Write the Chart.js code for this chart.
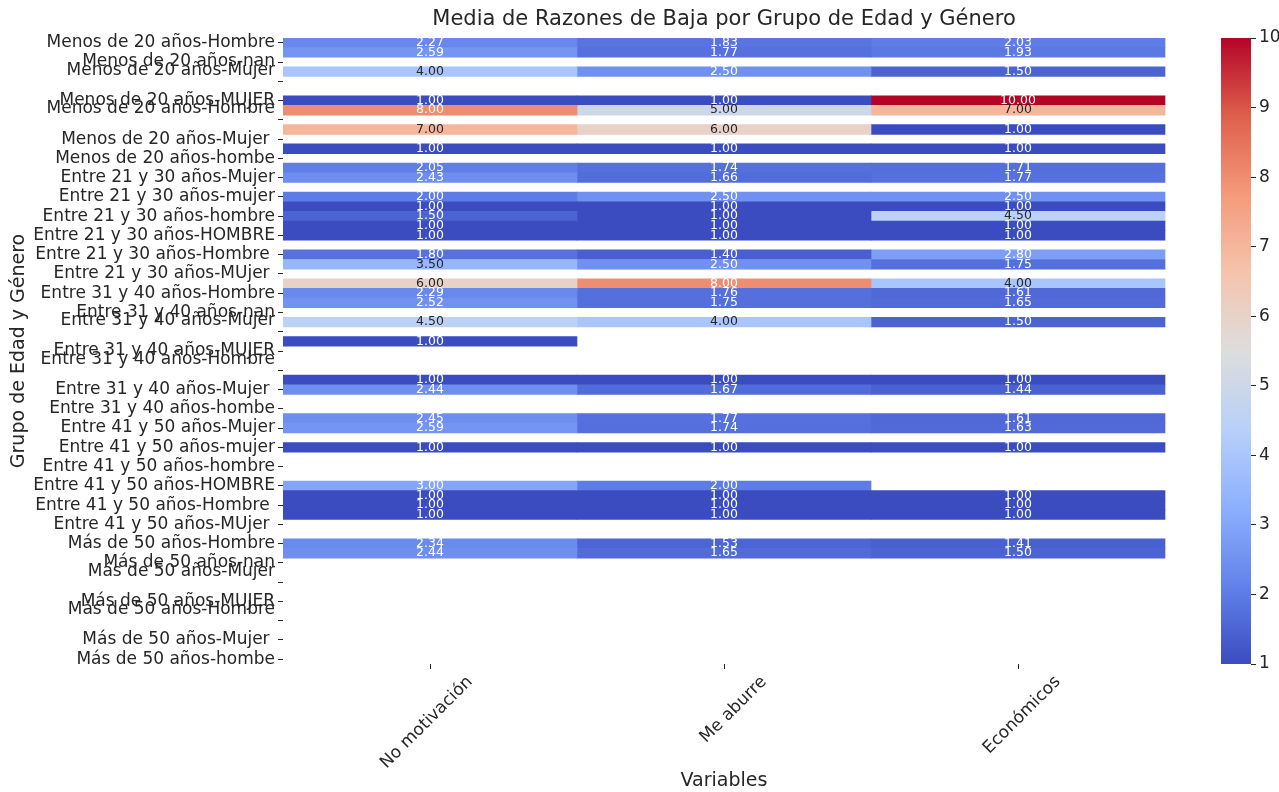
<!DOCTYPE html>
<html lang="es">
<head>
<meta charset="utf-8">
<title>Media de Razones de Baja</title>
<script src="https://cdn.jsdelivr.net/npm/chart.js@4.4.1/dist/chart.umd.min.js"></script>
<style>
  html, body { margin: 0; padding: 0; background: #fff; }
  #wrap { width: 1279px; height: 792px; position: relative; }
</style>
</head>
<body>
<div id="wrap"><canvas id="heatmap"></canvas></div>
<script>
// grupos de edad y variantes de genero tal como vienen en los datos (con espacios y saltos)
const ageGroups = ['Menos de 20 años', 'Entre 21 y 30 años', 'Entre 31 y 40 años', 'Entre 41 y 50 años', 'Más de 50 años'];
const genders = ['Hombre', 'Mujer', 'nan', 'mujer', 'Mujer\n', 'hombre', 'MUJER', 'HOMBRE', 'Hombre\n', 'Hombre ', 'Mujer ', 'MUjer ', 'hombe'];
const variables = ['No motivación', 'Me aburre', 'Económicos'];

// medias por fila (13 por grupo de edad), null = sin dato
const noMotivacion = [
  2.27, 2.59, null, 4.00, null, null, 1.00, 8.00, null, 7.00, null, 1.00, null,
  2.05, 2.43, null, 2.00, 1.00, 1.50, 1.00, 1.00, null, 1.80, 3.50, null, 6.00,
  2.29, 2.52, null, 4.50, null, 1.00, null, null, null, 1.00, 2.44, null, null,
  2.45, 2.59, null, 1.00, null, null, null, 3.00, 1.00, 1.00, 1.00, null, null,
  2.34, 2.44, null, null, null, null, null, null, null, null, null, null, null
];
const meAburre = [
  1.83, 1.77, null, 2.50, null, null, 1.00, 5.00, null, 6.00, null, 1.00, null,
  1.74, 1.66, null, 2.50, 1.00, 1.00, 1.00, 1.00, null, 1.40, 2.50, null, 8.00,
  1.76, 1.75, null, 4.00, null, null, null, null, null, 1.00, 1.67, null, null,
  1.77, 1.74, null, 1.00, null, null, null, 2.00, 1.00, 1.00, 1.00, null, null,
  1.53, 1.65, null, null, null, null, null, null, null, null, null, null, null
];
const economicos = [
  2.03, 1.93, null, 1.50, null, null, 10.00, 7.00, null, 1.00, null, 1.00, null,
  1.71, 1.77, null, 2.50, 1.00, 4.50, 1.00, 1.00, null, 2.80, 1.75, null, 4.00,
  1.61, 1.65, null, 1.50, null, null, null, null, null, 1.00, 1.44, null, null,
  1.61, 1.63, null, 1.00, null, null, null, null, 1.00, 1.00, 1.00, null, null,
  1.41, 1.50, null, null, null, null, null, null, null, null, null, null, null
];
const colorbarTicks = [1, 2, 3, 4, 5, 6, 7, 8, 9, 10];
const vmin = 1, vmax = 10;

const rowLabels = [];
ageGroups.forEach(age => genders.forEach(g => rowLabels.push(age + '-' + g)));

// coolwarm de matplotlib, muestreado cada 1/8
const coolwarm = [
  [0.0, 59, 76, 192],
  [0.125, 98, 130, 234],
  [0.25, 141, 176, 254],
  [0.375, 184, 208, 249],
  [0.5, 221, 221, 221],
  [0.625, 245, 196, 173],
  [0.75, 244, 154, 123],
  [0.875, 222, 96, 77],
  [1.0, 180, 4, 38]
];

function cellRgb(v) {
  const t = Math.min(1, Math.max(0, (v - vmin) / (vmax - vmin)));
  for (let i = 1; i < coolwarm.length; i++) {
    const a = coolwarm[i - 1], b = coolwarm[i];
    if (t <= b[0]) {
      const f = (t - a[0]) / (b[0] - a[0]);
      return [1, 2, 3].map(k => Math.round(a[k] + (b[k] - a[k]) * f));
    }
  }
  return coolwarm[coolwarm.length - 1].slice(1);
}
const rgbStr = c => `rgb(${c[0]}, ${c[1]}, ${c[2]})`;

function textColorFor(rgb) {
  const lin = rgb.map(c => { c /= 255; return c <= 0.03928 ? c / 12.92 : Math.pow((c + 0.055) / 1.055, 2.4); });
  const lum = 0.2126 * lin[0] + 0.7152 * lin[1] + 0.0722 * lin[2];
  return lum > 0.408 ? '#262626' : '#ffffff';
}

const series = [noMotivacion, meAburre, economicos];
const datasets = series.map((vals, j) => ({
  label: variables[j],
  values: vals,
  data: vals.map(v => v == null ? null : [j, j + 1]),
  backgroundColor: vals.map(v => v == null ? 'rgba(0,0,0,0)' : rgbStr(cellRgb(v))),
  borderWidth: 0,
  borderSkipped: false,
  grouped: false,
  barPercentage: 1,
  categoryPercentage: 1
}));

const annotatePlugin = {
  id: 'annotate',
  afterDatasetsDraw(chart) {
    const ctx = chart.ctx;
    ctx.save();
    ctx.font = '12.5px "DejaVu Sans"';
    ctx.textAlign = 'center';
    ctx.textBaseline = 'middle';
    chart.data.datasets.forEach((ds, j) => {
      chart.getDatasetMeta(j).data.forEach((bar, i) => {
        const v = ds.values[i];
        if (v == null) return;
        ctx.fillStyle = textColorFor(cellRgb(v));
        ctx.fillText(v.toFixed(2), (bar.x + bar.base) / 2, bar.y);
      });
    });
    ctx.restore();
  }
};

// barra de color + titulos centrados sobre el mapa
const decorPlugin = {
  id: 'decor',
  beforeDatasetsDraw(chart) {
    const ctx = chart.ctx;
    const cb = chart.scales.cb;
    const right = chart.chartArea.right;
    const top = cb.getPixelForValue(vmax), bottom = cb.getPixelForValue(vmin);
    const grad = ctx.createLinearGradient(0, bottom, 0, top);
    coolwarm.forEach(s => grad.addColorStop(s[0], rgbStr(s.slice(1))));
    ctx.save();
    ctx.fillStyle = grad;
    ctx.fillRect(right - 30, top, 30, bottom - top);
    ctx.restore();
  },
  afterDraw(chart) {
    const ctx = chart.ctx;
    const x = chart.scales.x;
    const cx = (x.getPixelForValue(0) + x.getPixelForValue(variables.length)) / 2;
    ctx.save();
    ctx.fillStyle = '#262626';
    ctx.textAlign = 'center';
    ctx.textBaseline = 'middle';
    ctx.font = '21px "DejaVu Sans"';
    ctx.fillText('Media de Razones de Baja por Grupo de Edad y Género', cx, 20);
    ctx.font = '19px "DejaVu Sans"';
    ctx.fillText('Variables', cx, 781);
    ctx.restore();
  }
};

Chart.defaults.font.family = '"DejaVu Sans"';
Chart.defaults.color = '#262626';

new Chart(document.getElementById('heatmap'), {
  type: 'bar',
  data: { labels: rowLabels, datasets: datasets },
  options: {
    indexAxis: 'y',
    responsive: true,
    maintainAspectRatio: false,
    animation: false,
    layout: { padding: { top: 38, left: 0, right: 0, bottom: 0 } },
    plugins: { legend: { display: false }, tooltip: { enabled: false }, title: { display: false } },
    scales: {
      x: {
        type: 'linear',
        position: 'bottom',
        min: 0,
        max: 3.2925,
        afterBuildTicks: scale => { scale.ticks = variables.map((_, j) => ({ value: j + 0.5 })); },
        afterFit: scale => { scale.height = 128; },
        ticks: {
          callback: v => variables[Math.floor(v)],
          minRotation: 45,
          maxRotation: 45,
          labelOffset: 40,
          padding: 3,
          font: { size: 17 },
          color: '#262626'
        },
        grid: { drawOnChartArea: false, drawTicks: true, tickLength: 5, tickColor: '#262626' },
        border: { display: false }
      },
      y: {
        type: 'category',
        position: 'left',
        offset: true,
        afterFit: scale => { scale.width = 283; },
        ticks: {
          autoSkip: false,
          padding: 3,
          font: { size: 17, lineHeight: 1.3 },
          color: '#262626',
          callback: (val, idx) => idx % 2 ? '' : (rowLabels[idx].endsWith('\n') ? rowLabels[idx].split('\n') : rowLabels[idx])
        },
        grid: {
          offset: false,
          drawOnChartArea: false,
          drawTicks: true,
          tickLength: 5,
          tickColor: c => c.index % 2 ? 'rgba(0,0,0,0)' : '#262626'
        },
        border: { display: false },
        title: { display: true, text: 'Grupo de Edad y Género', font: { size: 19 }, color: '#262626', padding: { top: 8, bottom: 0 } }
      },
      cb: {
        type: 'linear',
        position: 'right',
        offset: false,
        min: vmin,
        max: vmax,
        afterBuildTicks: scale => { scale.ticks = colorbarTicks.map(v => ({ value: v })); },
        afterFit: scale => { scale.width = 28; },
        ticks: { padding: 3, font: { size: 17 }, color: '#262626' },
        grid: { offset: false, drawOnChartArea: false, drawTicks: true, tickLength: 5, tickColor: '#262626' },
        border: { display: false }
      }
    }
  },
  plugins: [decorPlugin, annotatePlugin]
});
</script>
</body>
</html>
